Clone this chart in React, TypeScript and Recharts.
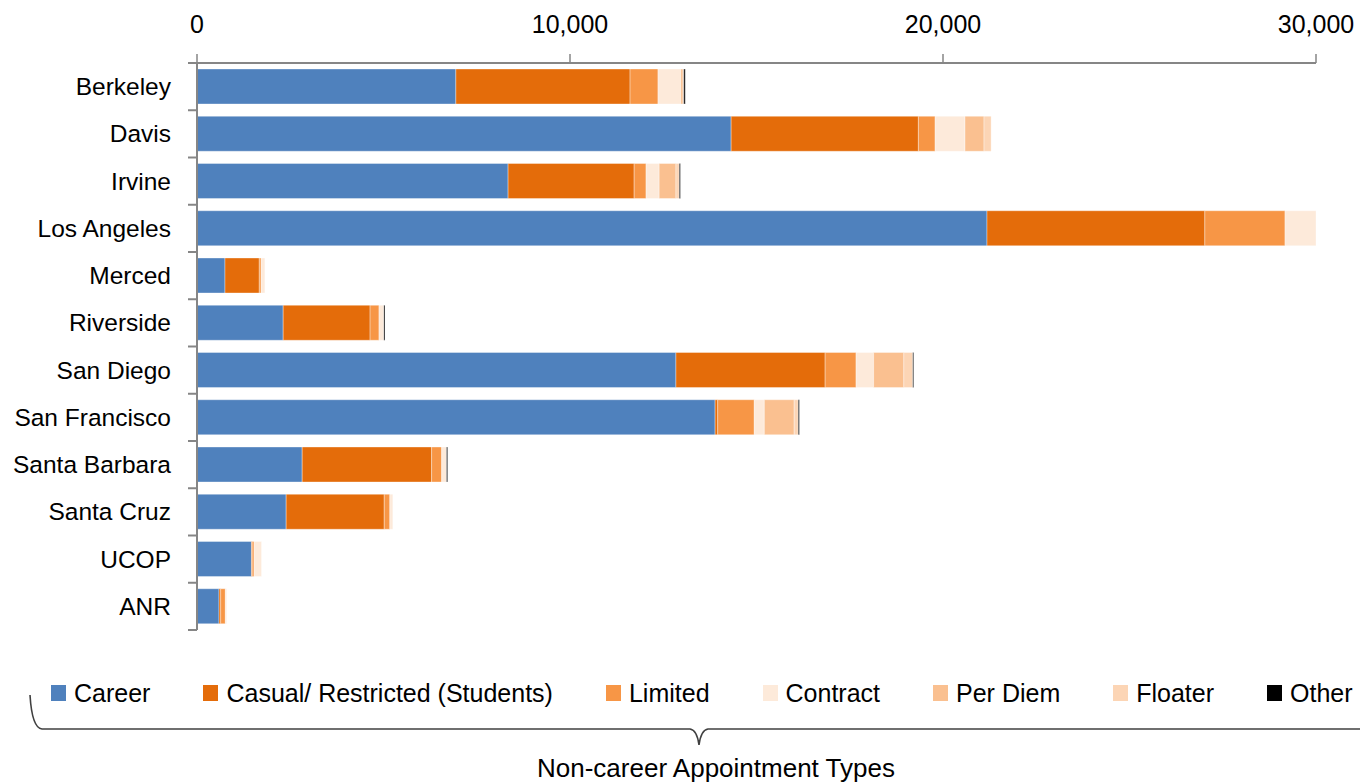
import { BarChart, Bar, XAxis, YAxis, Legend } from 'recharts';

// UC appointment headcount by location, stacked by appointment type
const categories = [
  'Berkeley',
  'Davis',
  'Irvine',
  'Los Angeles',
  'Merced',
  'Riverside',
  'San Diego',
  'San Francisco',
  'Santa Barbara',
  'Santa Cruz',
  'UCOP',
  'ANR',
];
const career = [6940, 14320, 8340, 21180, 750, 2310, 12840, 13890, 2820, 2390, 1460, 590];
const casual = [4670, 5020, 3380, 5840, 920, 2330, 4000, 70, 3470, 2630, 20, 45];
const limited = [750, 450, 320, 2150, 50, 240, 830, 980, 270, 150, 50, 125];
const contract = [610, 800, 350, 830, 100, 130, 470, 270, 130, 80, 200, 35];
const perDiem = [60, 510, 450, 0, 0, 0, 810, 800, 0, 0, 0, 0];
const floater = [20, 190, 90, 0, 0, 0, 240, 110, 0, 0, 0, 0];
const other = [40, 0, 30, 0, 0, 30, 25, 30, 30, 0, 0, 0];

const xTicks = [0, 10000, 20000, 30000];

const series = [
  { key: 'career', name: 'Career', color: '#4F81BD', values: career },
  { key: 'casual', name: 'Casual/ Restricted (Students)', color: '#E46C0A', values: casual },
  { key: 'limited', name: 'Limited', color: '#F79646', values: limited },
  { key: 'contract', name: 'Contract', color: '#FDEADA', values: contract },
  { key: 'perDiem', name: 'Per Diem', color: '#FAC090', values: perDiem },
  { key: 'floater', name: 'Floater', color: '#FCD5B5', values: floater },
  { key: 'other', name: 'Other', color: '#000000', values: other },
];

const data = categories.map((name, i) => {
  const row: Record<string, string | number> = { name };
  series.forEach((s) => {
    row[s.key] = s.values[i];
  });
  return row;
});

const W = 1352;
const H = 774;
const FONT = "'Liberation Sans', Arial, sans-serif";
const AXIS = '#868686';

// category label plus tick marks on the band edges
function CategoryTick(props: any) {
  const { x, y, payload } = props;
  const half = payload.offset || 23.6;
  const last = payload.value === categories[categories.length - 1];
  return (
    <g>
      <line x1={x - 9} x2={x} y1={y - half} y2={y - half} stroke={AXIS} strokeWidth={2} />
      {last && <line x1={x - 9} x2={x} y1={y + half} y2={y + half} stroke={AXIS} strokeWidth={2} />}
      <text x={x - 26} y={y} dy="0.35em" textAnchor="end" fontSize={24.5} fill="#000" fontFamily={FONT}>
        {payload.value}
      </text>
    </g>
  );
}

// legend row follows the series order, plus the brace and its caption
function LegendBlock() {
  return (
    <div style={{ position: 'relative', width: W, height: H, fontFamily: FONT }}>
      <div
        style={{
          position: 'absolute',
          left: 43,
          top: 671,
          height: 28,
          display: 'flex',
          alignItems: 'center',
          whiteSpace: 'nowrap',
        }}
      >
        {series.map((s) => (
          <div key={s.key} style={{ display: 'flex', alignItems: 'center', marginRight: 53 }}>
            <span style={{ width: 15, height: 16, background: s.color, marginRight: 8, display: 'inline-block' }} />
            <span style={{ fontSize: 25, lineHeight: '28px', color: '#000' }}>{s.name}</span>
          </div>
        ))}
      </div>
      <svg width={W} height={H} style={{ position: 'absolute', left: 0, top: 0, overflow: 'visible' }}>
        <path
          d="M 22 687 Q 24 720 34 721 L 682 721 Q 689 722 691 737 Q 693 722 700 721 L 1400 721"
          fill="none"
          stroke="#404040"
          strokeWidth={1.6}
        />
        <text x={708} y={769} textAnchor="middle" fontSize={26} fill="#000" fontFamily={FONT}>
          Non-career Appointment Types
        </text>
      </svg>
    </div>
  );
}

export default function App() {
  return (
    <div
      style={{
        position: 'fixed',
        left: 0,
        top: 0,
        width: 1360,
        height: 782,
        overflow: 'hidden',
        background: '#fff',
        fontFamily: FONT,
      }}
    >
      <style>{'.recharts-surface { overflow: visible; } .recharts-wrapper { overflow: visible; }'}</style>
      <div style={{ position: 'absolute', left: 8, top: 8, width: W, height: H }}>
        <BarChart
          width={W}
          height={H}
          data={data}
          layout="vertical"
          margin={{ top: 0, right: 44, bottom: 152, left: 0 }}
          barSize={35}
        >
          <XAxis
            type="number"
            orientation="top"
            domain={[0, 30000]}
            ticks={xTicks}
            height={55}
            allowDataOverflow
            tickFormatter={(v: number) => v.toLocaleString('en-US')}
            axisLine={{ stroke: AXIS, strokeWidth: 2 }}
            tickLine={{ stroke: AXIS, strokeWidth: 1.5 }}
            tickSize={9}
            tickMargin={21}
            tick={{ fill: '#000', fontSize: 25, fontFamily: FONT }}
          />
          <YAxis
            type="category"
            dataKey="name"
            width={189}
            axisLine={{ stroke: AXIS, strokeWidth: 2 }}
            tickLine={false}
            tickSize={0}
            tickMargin={0}
            interval={0}
            tick={<CategoryTick />}
          />
          <Legend
            layout="horizontal"
            verticalAlign="middle"
            align="center"
            wrapperStyle={{ top: 0, left: 0, width: W, height: H }}
            content={<LegendBlock />}
          />
          {series.map((s) => (
            <Bar
              key={s.key}
              dataKey={s.key}
              name={s.name}
              stackId="a"
              fill={s.color}
              stroke="#ffffff"
              strokeOpacity={0.35}
              strokeWidth={1}
              legendType="square"
              isAnimationActive={false}
            />
          ))}
        </BarChart>
      </div>
    </div>
  );
}
